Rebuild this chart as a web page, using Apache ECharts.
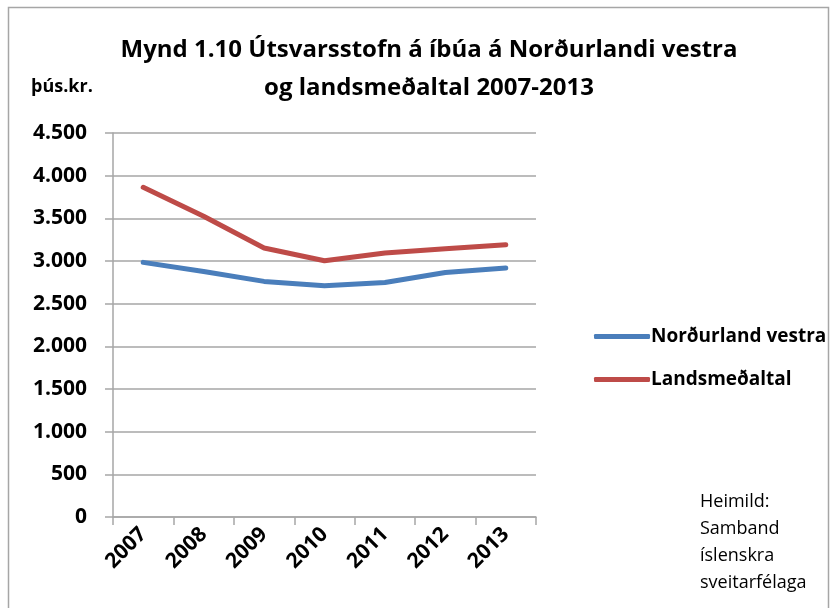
<!DOCTYPE html>
<html>
<head>
<meta charset="utf-8">
<script src="https://cdn.jsdelivr.net/npm/echarts@6/dist/echarts.min.js"></script>
<style>
  html, body { margin: 0; padding: 0; background: #fff; }
  #main { width: 837px; height: 608px; }
</style>
</head>
<body>
<div id="main"></div>
<script>
// gögn
var years = ['2007', '2008', '2009', '2010', '2011', '2012', '2013'];
var nordurlandVestra = [2984, 2878, 2761, 2711, 2749, 2866, 2918];
var landsmedaltal = [3863, 3525, 3152, 3003, 3093, 3144, 3191];
var yTicks = [0, 500, 1000, 1500, 2000, 2500, 3000, 3500, 4000, 4500];

var font = '"Open Sans", "Liberation Sans", sans-serif';

function fmt(v) {
  return String(v).replace(/\B(?=(\d{3})+(?!\d))/g, '.');
}

var chart = echarts.init(document.getElementById('main'));
chart.setOption({
  backgroundColor: '#fff',
  animation: false,
  title: {
    text: 'Mynd 1.10 Útsvarsstofn á íbúa á Norðurlandi vestra\nog landsmeðaltal 2007-2013',
    left: 424,
    top: 26,
    textAlign: 'center',
    textStyle: {fontFamily: font, fontWeight: 'bold', fontSize: 24, lineHeight: 38, color: '#000'}
  },
  legend: {
    orient: 'vertical',
    left: 589,
    top: 322,
    itemWidth: 56,
    itemHeight: 5,
    itemGap: 24,
    icon: 'roundRect',
    textStyle: {fontFamily: font, fontWeight: 'bold', fontSize: 19, color: '#000', padding: [0, 0, 0, -4]},
    data: ['Norðurland vestra', 'Landsmeðaltal']
  },
  grid: {left: 113, right: 301, top: 133, bottom: 91, containLabel: false},
  xAxis: {
    type: 'category',
    data: years,
    boundaryGap: true,
    axisLine: {lineStyle: {color: '#a6a6a6', width: 1.5}},
    axisTick: {show: true, length: 8, lineStyle: {color: '#a6a6a6', width: 1.5}},
    axisLabel: {
      rotate: 45,
      margin: 14,
      color: '#000',
      fontFamily: font,
      fontWeight: 'bold',
      fontSize: 21
    }
  },
  yAxis: {
    type: 'value',
    min: 0,
    max: 4500,
    interval: 500,
    axisLine: {show: true, lineStyle: {color: '#a6a6a6', width: 1.5}},
    axisTick: {show: true, length: 8, lineStyle: {color: '#a6a6a6', width: 1.5}},
    splitLine: {lineStyle: {color: '#a6a6a6', width: 1.5}},
    axisLabel: {
      margin: 26,
      color: '#000',
      fontFamily: font,
      fontWeight: 'bold',
      fontSize: 21,
      formatter: function (v) { return yTicks.indexOf(v) >= 0 ? fmt(v) : ''; }
    }
  },
  graphic: [
    {
      type: 'rect',
      shape: {x: 8.5, y: 7.5, width: 820, height: 620},
      style: {fill: 'none', stroke: '#a6a6a6', lineWidth: 1.5},
      silent: true
    },
    {
      type: 'text',
      left: 31,
      top: 78,
      style: {text: 'þús.kr.', fontFamily: font, fontWeight: 'bold', fontSize: 18, fill: '#000'}
    },
    {
      type: 'text',
      left: 700,
      top: 488,
      style: {
        text: 'Heimild:\nSamband\níslenskra\nsveitarfélaga',
        fontFamily: font,
        fontSize: 18,
        lineHeight: 27,
        fill: '#000'
      }
    }
  ],
  series: [
    {
      name: 'Norðurland vestra',
      type: 'line',
      data: nordurlandVestra,
      showSymbol: false,
      symbol: 'none',
      color: '#4a7ebb',
      lineStyle: {width: 5, color: '#4a7ebb', cap: 'round'}
    },
    {
      name: 'Landsmeðaltal',
      type: 'line',
      data: landsmedaltal,
      showSymbol: false,
      symbol: 'none',
      color: '#be4b48',
      lineStyle: {width: 5, color: '#be4b48', cap: 'round'}
    }
  ]
});
</script>
</body>
</html>
